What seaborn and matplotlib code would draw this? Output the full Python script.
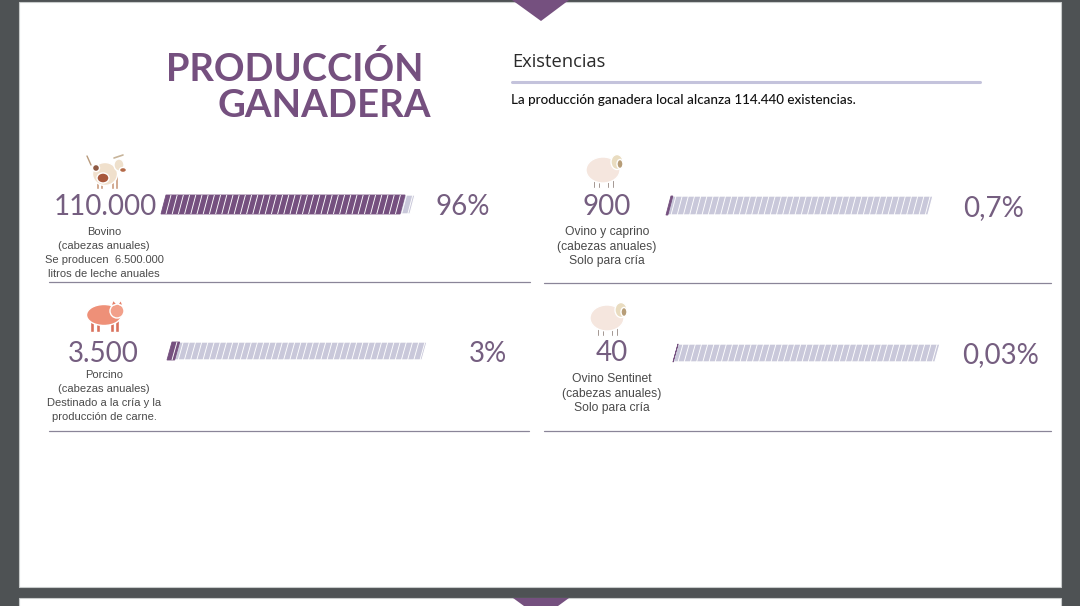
import pandas as pd
import matplotlib
matplotlib.use("Agg")
import matplotlib.pyplot as plt
from matplotlib.patches import Ellipse, Polygon, Rectangle
from matplotlib.transforms import Affine2D
import seaborn as sns

# values
species = ["Bovino", "Ovino y caprino", "Porcino", "Ovino Sentinet"]
shares = [96, 0.7, 3, 0.03]
heads = ["110.000", "900", "3.500", "40"]
share_labels = ["96%", "0,7%", "3%", "0,03%"]
captions = [
    "Bovino\n(cabezas anuales)\nSe producen  6.500.000\nlitros de leche anuales",
    "Ovino y caprino\n(cabezas anuales)\nSolo para cría",
    "Porcino\n(cabezas anuales)\nDestinado a la cría y la\nproducción de carne.",
    "Ovino Sentinet\n(cabezas anuales)\nSolo para cría",
]

PURPLE = "#75507f"
LIGHT = "#c9c8da"
TEXT = "#755e80"
W, H = 1080, 606
SHIFT = 5  # px the bars lean to the right

df = pd.DataFrame({"species": species, "share": shares, "full": [100] * 4})

sns.set_style("white")
fig = plt.figure(figsize=(W / 100, H / 100), dpi=100, facecolor="#4e5254")
bg = fig.add_axes([0, 0, 1, 1])
bg.set_xlim(0, W)
bg.set_ylim(H, 0)
bg.axis("off")

# pages
bg.add_patch(Rectangle((19, 2), 1042, 585, fc="white", ec="#c8cbcb", lw=0.8))
bg.add_patch(Rectangle((19, 598), 1042, 12, fc="white", ec="#c8cbcb", lw=0.8))
bg.add_patch(Polygon([(512, 0), (569, 0), (541, 21)], fc=PURPLE, ec="none", lw=0))
bg.add_patch(Polygon([(513, 598), (569, 598), (558, 606), (524, 606)], fc=PURPLE, ec="none", lw=0))

# header
bg.text(423, 69, "PRODUCCIÓN", family="Lato", weight="bold", fontsize=27.4,
        color=PURPLE, ha="right", va="center")
bg.text(431, 106, "GANADERA", family="Lato", weight="bold", fontsize=27.6,
        color=PURPLE, ha="right", va="center")
bg.text(512, 62, "Existencias", family="Open Sans", fontsize=13.2, color="#2b2b2b",
        ha="left", va="center")
bg.plot([512, 980], [82, 82], color="#c4c3dc", lw=2.2)
bg.text(511, 100, "La producción ganadera local alcanza 114.440 existencias.",
        family="Lato", weight="medium", fontsize=9.7, color="#111111", ha="left", va="center")


def cow(x, y):
    for lx in (10, 14, 25, 29):
        bg.add_patch(Rectangle((x + lx, y + 22), 2.5, 14, fc="#c9987a"))
    bg.add_patch(Ellipse((x + 19, y + 21), 25, 23, fc="#f0e0cc"))
    bg.add_patch(Ellipse((x + 17, y + 25), 12, 10, fc="#a8583c"))
    bg.add_patch(Ellipse((x + 10, y + 15), 7, 7, fc="#8f5a44"))
    bg.add_patch(Ellipse((x + 33, y + 12), 10, 12, fc="#eee0cc"))
    bg.add_patch(Ellipse((x + 37, y + 17), 7, 5, fc="#b46a48"))
    bg.plot([x + 5, x + 1], [y + 12, y + 3], color="#b89a7c", lw=1)
    bg.plot([x + 28, x + 37], [y + 5, y + 2], color="#c7b49a", lw=1.2)


def sheep(x, y):
    for lx in (7, 12, 21, 26):
        bg.add_patch(Rectangle((x + lx, y + 26), 1.8, 9, fc="#6d5a52"))
    bg.add_patch(Ellipse((x + 17, y + 17), 34, 26, fc="#f5e6de"))
    bg.add_patch(Ellipse((x + 31, y + 9), 12, 15, fc="#e9dcc0"))
    bg.add_patch(Ellipse((x + 34, y + 11), 6, 9, fc="#b79d78"))


def pig(x, y):
    for lx in (4, 10, 24, 29):
        bg.add_patch(Rectangle((x + lx, y + 20), 3.5, 12, fc="#d9715c"))
    bg.add_patch(Ellipse((x + 18, y + 15), 35, 21, fc="#ee9078"))
    bg.add_patch(Ellipse((x + 31, y + 11), 14, 14, fc="#f2a08a"))
    bg.add_patch(Polygon([(x + 25, y + 6), (x + 27, y), (x + 31, y + 4)], fc="#e57f68"))
    bg.add_patch(Polygon([(x + 32, y + 4), (x + 35, y), (x + 37, y + 6)], fc="#e57f68"))


cow(86, 153)
sheep(586, 153)
pig(86, 300)
sheep(590, 301)

# one panel per species: bar box, number centre, caption, percent, rule
bar_boxes = [(161, 195, 249, 19), (666, 196, 262, 19), (167, 342, 255, 18), (673, 344, 262, 18)]
num_pos = [(105, 207), (607, 207), (103, 354), (612, 353)]
cap_pos = [(104, 233), (607, 232), (104, 376), (612, 379)]
cap_size = [8, 8.7, 8, 8.7]
cap_spacing = [1.5, 1.3, 1.5, 1.3]
pct_pos = [(463, 207), (994, 208), (488, 354), (1001, 355)]
rules = [(49, 530, 282), (544, 1051, 283), (49, 529, 431), (544, 1051, 431)]

for i, row in df.iterrows():
    x, y, w, h = bar_boxes[i]
    ax = fig.add_axes([x / W, 1 - (y + h) / H, w / W, h / H])
    ax.patch.set_alpha(0)
    sns.barplot(data=df.iloc[[i]], x="full", y="species", color=LIGHT, width=1,
                saturation=1, ax=ax)
    sns.barplot(data=df.iloc[[i]], x="share", y="species", color=PURPLE, width=1,
                saturation=1, ax=ax)
    ax.set_xlim(0, 100)
    ax.set_ylim(0.5, -0.5)
    ax.axis("off")

    # lean the bars in display space, keeping the bottom edge fixed
    k = SHIFT / h
    y0 = H - (y + h)
    lean = Affine2D.from_values(1, 0, k, 1, -k * y0, 0)
    for bar in ax.patches:
        bar.set_transform(ax.transData + lean)
        bar.set_clip_on(False)
    ax.patches[-1].set(edgecolor=PURPLE, linewidth=0.6)

    # white stripes with the same lean
    pos = 5.0
    while pos < w:
        ax.plot([pos / w, (pos + SHIFT) / w], [0, 1], color="white", lw=0.65,
                transform=ax.transAxes, clip_on=False, solid_capstyle="butt")
        pos += 6.2

    bg.text(*num_pos[i], heads[i], family="Lato", weight="regular", fontsize=20,
            color=TEXT, ha="center", va="center")
    bg.text(*pct_pos[i], share_labels[i], family="Lato", weight="regular", fontsize=20,
            color=TEXT, ha="center", va="center")
    bg.text(cap_pos[i][0], cap_pos[i][1] - 6, captions[i], family="Liberation Sans",
            fontsize=cap_size[i], color="#4a4a4a", ha="center", va="top",
            linespacing=cap_spacing[i])
    bg.plot(rules[i][:2], [rules[i][2]] * 2, color="#8a8598", lw=0.9)

bg.set_xlim(0, W)
bg.set_ylim(H, 0)
fig.savefig("out.png", dpi=100, facecolor=fig.get_facecolor())
